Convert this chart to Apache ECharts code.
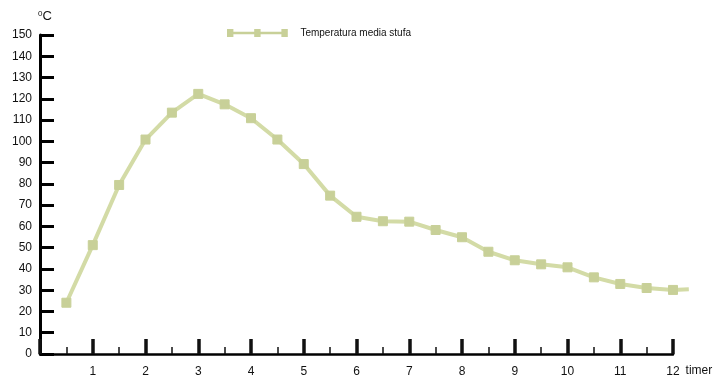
<!DOCTYPE html>
<html>
<head>
<meta charset="utf-8">
<script src="https://cdn.jsdelivr.net/npm/echarts@6/dist/echarts.min.js"></script>
<style>html,body{margin:0;padding:0;background:#fff}#c{width:720px;height:388px}</style>
</head>
<body>
<div id="c"></div>
<script>
var seriesName = 'Temperatura media stufa';
var xValues = [0.5, 1, 1.5, 2, 2.5, 3, 3.5, 4, 4.5, 5, 5.5, 6, 6.5, 7, 7.5, 8, 8.5, 9, 9.5, 10, 10.5, 11, 11.5, 12, 12.3];
var temps   = [24.5, 51.5, 79.7, 101, 113.6, 122.4, 117.5, 111, 101, 89.5, 74.7, 64.8, 62.7, 62.5, 58.6, 55.2, 48.4, 44.4, 42.5, 41.1, 36.4, 33.3, 31.4, 30.5, 30.8];
var markerless = [false,false,false,false,false,false,false,false,false,false,false,false,false,false,false,false,false,false,false,false,false,false,false,false,true];
var yMin = 0, yMax = 150, yStep = 10;
var xMin = 0, xMax = 12, xStep = 1;
var xPlotMax = 12.3;
var xName = 'timer';
var unitText = '{s|0}C';

var FONT = '"Liberation Sans Narrow", "Liberation Sans", Arial, sans-serif';
var lineColor = '#d3dba6';
var markColor = '#c8d098';

var data = xValues.map(function (x, i) {
  var d = { value: [x, temps[i]] };
  if (markerless[i]) d.symbol = 'none';
  return d;
});

var plotLeft = 40, plotRight = 47, plotTop = 35, plotBottom = 33;
var plotWidth = 720 - plotLeft - plotRight;
var unitPx = plotWidth / (xMax - xMin);
var rightExt = 720 - plotLeft - unitPx * (xPlotMax - xMin);

var chart = echarts.init(document.getElementById('c'), null, { renderer: 'canvas' });
chart.setOption({
  backgroundColor: '#ffffff',
  animation: false,
  title: {
    text: unitText,
    left: 33, top: 5,
    textStyle: {
      fontFamily: FONT, fontSize: 13, fontWeight: 'normal', color: '#111',
      rich: { s: { fontFamily: FONT, fontSize: 8, color: '#111', verticalAlign: 'top', lineHeight: 9 } }
    }
  },
  legend: {
    left: 222, top: 23,
    itemWidth: 76, itemHeight: 8, itemGap: 10,
    icon: 'path://M0,0h8v10h-8z M8,3.5h26v3h-26z M34,0h8v10h-8z M42,3.5h26v3h-26z M68,0h8v10h-8z',
    textStyle: { fontFamily: FONT, fontSize: 10, color: '#111' },
    data: [seriesName]
  },
  grid: [
    { left: plotLeft, right: plotRight, top: plotTop, bottom: plotBottom, containLabel: false },
    { left: plotLeft, right: rightExt, top: plotTop, bottom: plotBottom, containLabel: false }
  ],
  xAxis: [{
    gridIndex: 0,
    type: 'value', min: xMin, max: xMax, interval: xStep,
    splitLine: { show: false },
    axisLine: { show: true, lineStyle: { color: '#000', width: 2.5 } },
    axisTick: { show: true, inside: true, length: 15, lineStyle: { color: '#111', width: 3.5 } },
    minorTick: { show: true, splitNumber: 2, length: 7, lineStyle: { color: '#111', width: 1.5 } },
    axisLabel: {
      fontFamily: FONT, fontSize: 12, color: '#111', margin: 12,
      formatter: function (v) { return v === 0 ? '' : String(v); }
    },
    name: xName, nameLocation: 'end', nameGap: 11,
    nameTextStyle: { fontFamily: FONT, fontSize: 12, color: '#111', verticalAlign: 'top', lineHeight: 34 }
  }, {
    gridIndex: 1,
    type: 'value', min: xMin, max: xPlotMax, show: false
  }],
  yAxis: [{
    gridIndex: 0,
    type: 'value', min: yMin, max: yMax, interval: yStep,
    splitLine: { show: false },
    axisLine: { show: true, lineStyle: { color: '#000', width: 3 } },
    axisTick: { show: true, inside: true, length: 14, lineStyle: { color: '#000', width: 3 } },
    axisLabel: { fontFamily: FONT, fontSize: 12, color: '#111', margin: 8 }
  }, {
    gridIndex: 1,
    type: 'value', min: yMin, max: yMax, show: false
  }],
  series: [{
    name: seriesName,
    type: 'line',
    xAxisIndex: 1, yAxisIndex: 1,
    data: data,
    clip: false,
    symbol: 'rect',
    symbolSize: 9,
    lineStyle: { color: lineColor, width: 4 },
    itemStyle: { color: markColor, borderColor: markColor }
  }]
});
</script>
</body>
</html>
